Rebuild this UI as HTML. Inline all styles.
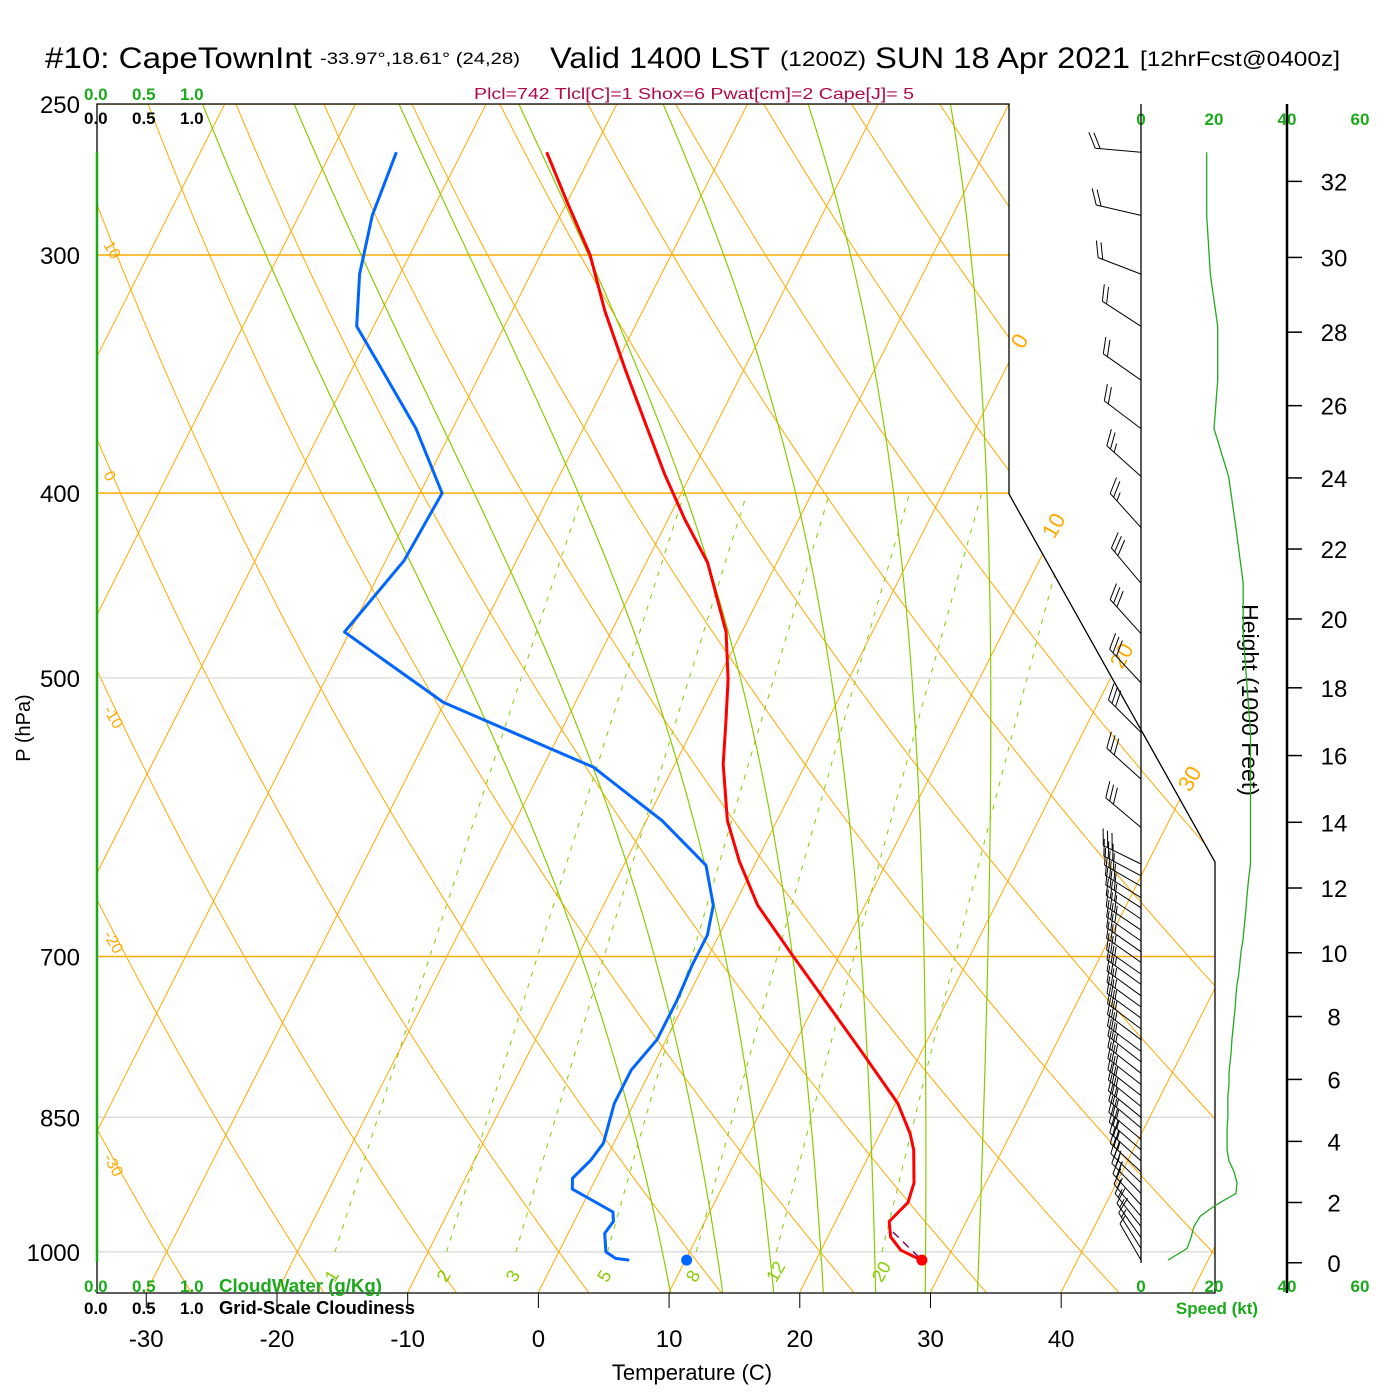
<!DOCTYPE html>
<html><head><meta charset="utf-8"><title>Skew-T CapeTownInt</title>
<style>html,body{margin:0;padding:0;background:#fff}svg{display:block}text{font-family:"Liberation Sans",sans-serif}</style>
</head><body>
<svg id="chart" xmlns="http://www.w3.org/2000/svg" width="1400" height="1400" viewBox="0 0 1400 1400">
<defs><clipPath id="plotClip"><polygon points="97,104 1009,104 1009,494 1215,862 1215,1293 97,1293"/></clipPath></defs>
<rect x="0" y="0" width="1400" height="1400" fill="#fff"/>
<g id="bg" clip-path="url(#plotClip)"></g>
<g id="fg"></g>
<g>
<text x="45" y="68" font-size="30" textLength="267" lengthAdjust="spacingAndGlyphs">#10: CapeTownInt</text>
<text x="320" y="64" font-size="17" textLength="200" lengthAdjust="spacingAndGlyphs">-33.97°,18.61° (24,28)</text>
<text x="550" y="68" font-size="30" textLength="220" lengthAdjust="spacingAndGlyphs">Valid 1400 LST</text>
<text x="780" y="66" font-size="21" textLength="86" lengthAdjust="spacingAndGlyphs">(1200Z)</text>
<text x="875" y="68" font-size="30" textLength="255" lengthAdjust="spacingAndGlyphs">SUN 18 Apr 2021</text>
<text x="1140" y="66" font-size="21" textLength="200" lengthAdjust="spacingAndGlyphs">[12hrFcst@0400z]</text>
<text x="474" y="99" font-size="16" fill="#b0084a" textLength="440" lengthAdjust="spacingAndGlyphs">Plcl=742 Tlcl[C]=1 Shox=6 Pwat[cm]=2 Cape[J]= 5</text>
</g>
</svg>
<script>
const NS="http://www.w3.org/2000/svg";
// ---- data ----
const tempP=[265,281,300,321,345,368,391,413,435,455,473,501,526,555,594,624,658,699,735,784,836,867,884,920,942,964,982,998,1011];
const tempC=[-43.5,-40.1,-36.2,-32.9,-29.0,-25.4,-22.0,-18.7,-15.3,-13.1,-11.2,-9.2,-7.8,-6.3,-3.8,-1.3,1.8,6.4,10.3,15.3,20.2,22.3,23.2,24.5,24.8,24.1,24.8,26.1,28.2];
const dewP=[265,286,307,327,343,370,400,434,473,515,557,594,627,658,682,707,738,774,803,836,877,895,915,927,953,964,978,1000,1008,1010];
const dewC=[-55.0,-54.4,-53.1,-51.3,-48.0,-42.8,-38.3,-38.6,-40.4,-30.1,-16.1,-8.8,-3.7,-1.6,-0.9,-0.9,-0.7,-0.7,-1.5,-1.5,-0.8,-1.1,-1.8,-1.4,2.6,3.0,2.8,3.6,4.6,5.7];
const sfcP=1010, sfcT=28.1, sfcTd=10.1;
const windP=[265,286,307,327,349,370,392,417,446,474,503,534,565,599,626,635,643,652,660,669,678,687,696,705,715,724,734,744,754,764,774,785,795,806,817,828,839,850,861,873,884,896,908,920,932,945,958,970,983,996,1010];
const windDir=[275,283,291,303,305,307,312,318,320,318,317,315,312,310,296,298,300,302,303,304,304,305,305,305,305,306,306,306,306,307,307,307,308,308,308,308,309,309,310,310,311,312,313,314,316,318,320,322,325,328,330];
const windSpd=[18,18,19,21,21,20,24,26,28,28,29,30,30,30,30,29.6,29.3,29,28.8,28.5,28.2,27.9,27.4,27.1,26.8,26.3,26,25.8,25.5,25.2,24.9,24.7,24.4,24.1,24.1,23.8,23.8,23.8,23.6,23.6,23.6,24.1,25.5,26.3,26,20.5,16.2,14.5,13.7,12.6,7.4];
const pressTicks=[250,300,400,500,700,850,1000];
const tempTicks=[-30,-20,-10,0,10,20,30,40];
const heightTicks=[0,2,4,6,8,10,12,14,16,18,20,22,24,26,28,30,32];
const speedTicks=[0,20,40,60];
const mixRatios=[1,2,3,5,8,12,20];
const moistStarts=[10.1,14.1,18,21.8,25.8,29.6,33.6];
const adiabatLabels=[10,0,-10,-20,-30];
const isoLabels=[0,10,20,30];

// ---- axes ----
function yP(p){return 104+828*Math.log(p/250);}
function xT(T,p){return 538+13.07*T+0.506*(1293-yP(p));}
function xSpd(k){return 1141+3.65*k;}
function yH(kft){const z=kft*304.8;const p=1013.25*Math.pow(1-2.25577e-5*z,5.25588);return yP(p);}

const bg=document.getElementById('bg'), fg=document.getElementById('fg');
function el(tag,attrs,parent){const e=document.createElementNS(NS,tag);for(const k in attrs)e.setAttribute(k,attrs[k]);(parent||fg).appendChild(e);return e;}
function pathD(pts){return pts.map((q,i)=>(i?'L':'M')+q[0].toFixed(1)+','+q[1].toFixed(1)).join('');}
const OR='#ffaa00', GR='#88cc00';

// isobars
pressTicks.forEach(p=>{
  const y=yP(p);
  const xr=(p>=700)?1215:(p>=500?1140:1009);
  const l=el('line',{x1:97,y1:y,x2:xr,y2:y,stroke:(p==500||p==850||p==1000)?'#d6d6d6':OR,'stroke-width':(p==500||p==850||p==1000)?1.2:1.5},p==500?fg:bg);
  
  
});
// isotherms
for(let T=-110;T<=60;T+=10){
  const l=el('line',{x1:xT(T,1050),y1:yP(1050),x2:xT(T,250),y2:yP(250),stroke:OR,'stroke-width':1},bg);
  
  
}
// dry adiabats
for(let th=-60;th<=200;th+=10){
  const pts=[];for(let p=1050;p>=250;p-=10){const T=(th+273.15)*Math.pow(p/1000,0.2857)-273.15;pts.push([xT(T,p),yP(p)]);}
  const l=el('path',{d:pathD(pts),fill:'none',stroke:OR,'stroke-width':1},bg);
  
  
}
// moist adiabats
function es(Tc){return 6.112*Math.exp(17.67*Tc/(Tc+243.5));}
moistStarts.forEach(T0=>{
  let T=T0+273.15;const pts=[];
  for(let p=1050;p>=250;p-=2){
    pts.push([xT(T-273.15,p),yP(p)]);
    const e=es(T-273.15), rs=0.622*e/(p-e);
    const dTdp=(287*T+2.5e6*rs)/(1004+2.5e6*2.5e6*rs*0.622/(287*T*T))/p;
    T-=dTdp*2;
  }
  const l=el('path',{d:pathD(pts),fill:'none',stroke:GR,'stroke-width':1.2},bg);
  
  
});
// mixing ratio lines
mixRatios.forEach(w=>{
  const pts=[];for(let p=1000;p>=400;p-=10){const e=w*p/(622+w);const a=Math.log(e/6.112);const Td=243.5*a/(17.67-a);pts.push([xT(Td,p),yP(p)]);}
  const l=el('path',{d:pathD(pts),fill:'none',stroke:GR,'stroke-width':1,'stroke-dasharray':'5,7'},bg);
  
  
  const e=w*1000/(622+w);const a=Math.log(e/6.112);const Td=243.5*a/(17.67-a);
  const t=el('text',{x:xT(Td,1000)-8,y:1282,'font-size':18,fill:GR,transform:'rotate(-60 '+(xT(Td,1000)-3)+' 1276)'});
  t.textContent=w;
  
  
});

// frame
const frame=el('path',{d:'M97,152 L97,104 L1009,104 L1009,494 L1215,862 L1215,1293 L97,1293 L97,1262',fill:'none',stroke:'#000','stroke-width':1.3});


const cw=el('line',{x1:97,y1:152,x2:97,y2:1262,stroke:'#1aaa1a','stroke-width':2.5});



// adiabat labels left
const adiabatLabelY=[250,480,715,940,1163];
adiabatLabels.forEach((v,i)=>{
  const t=el('text',{x:100,y:adiabatLabelY[i],'font-size':16,fill:OR,transform:'rotate(60 106 '+adiabatLabelY[i]+')'});
  t.textContent=v;
  
  
});
// isotherm labels right
const isoLabelPos=[[1023,350],[1054,540],[1122,670],[1190,793]];
isoLabels.forEach((v,i)=>{
  const [x,y]=isoLabelPos[i];
  const t=el('text',{x:x,y:y,'font-size':22,fill:OR,transform:'rotate(-60 '+x+' '+y+')'});
  t.textContent=v;
  
  
});

// pressure labels
pressTicks.forEach(p=>{
  const t=el('text',{x:80,y:yP(p)+9,'font-size':24,'text-anchor':'end'});
  t.textContent=p;
  
  
});
const pl=el('text',{x:0,y:0,'font-size':20,'text-anchor':'middle',transform:'translate(30 728) rotate(-90)'});
pl.textContent='P (hPa)';


// temp ticks
tempTicks.forEach(T=>{
  const x=xT(T,1050);
  const l=el('line',{x1:x,y1:1293,x2:x,y2:1308,stroke:'#000','stroke-width':1});
  
  
  const t=el('text',{x:x,y:1347,'font-size':24,'text-anchor':'middle'});
  t.textContent=T;
  
  
});
const xt=el('text',{x:692,y:1380,'font-size':22,'text-anchor':'middle'});
xt.textContent='Temperature (C)';



// cloud axes labels
[['#1aaa1a',100],['#000',124]].forEach(([c,y])=>{
  ['0.0','0.5','1.0'].forEach((s,i)=>{const t=el('text',{x:84+48*i,y:y,'font-size':17,'font-weight':'bold',fill:c});t.textContent=s;
    
    });
});
[['#1aaa1a',1292,'CloudWater (g/Kg)'],['#000',1314,'Grid-Scale Cloudiness']].forEach(([c,y,s2])=>{
  ['0.0','0.5','1.0'].forEach((s,i)=>{const t=el('text',{x:84+48*i,y:y,'font-size':17,'font-weight':'bold',fill:c});t.textContent=s;
    
    });
  const t=el('text',{x:219,y:y,'font-size':18,'font-weight':'bold',fill:c,textLength:(c=='#000'?196:163),lengthAdjust:'spacingAndGlyphs'});t.textContent=s2;
  
  
});

// speed axis
speedTicks.forEach(k=>{
  [125,1292].forEach(y=>{const t=el('text',{x:xSpd(k),y:y,'font-size':17,'font-weight':'bold',fill:'#1aaa1a','text-anchor':'middle'});t.textContent=k;
    
    });
});
const st=el('text',{x:1217,y:1314,'font-size':17,'font-weight':'bold',fill:'#1aaa1a','text-anchor':'middle'});
st.textContent='Speed (kt)';


const staff=el('line',{x1:1141,y1:104,x2:1141,y2:1263,stroke:'#000','stroke-width':1.3});



// height axis
const ha=el('line',{x1:1287,y1:104,x2:1287,y2:1293,stroke:'#000','stroke-width':2.5});


heightTicks.forEach(h=>{
  const y=yH(h);
  const l=el('line',{x1:1287,y1:y,x2:1302,y2:y,stroke:'#000','stroke-width':1.5});
  
  
  const t=el('text',{x:1334,y:y+9,'font-size':24,'text-anchor':'middle'});
  t.textContent=h;
  
  
});
const ht=el('text',{x:0,y:0,'font-size':23,'text-anchor':'middle',transform:'translate(1242 700) rotate(90)'});
ht.textContent='Height (1000 Feet)';



// wind speed line
const sp=el('path',{d:pathD(windP.map((p,i)=>[xSpd(windSpd[i]),yP(p)])),fill:'none',stroke:'#22aa22','stroke-width':1.3});



// wind barbs
windP.forEach((p,i)=>{
  const bx=1141, by=yP(p), d=windDir[i]*Math.PI/180, L=p>620?42:46;
  const ux=Math.sin(d), uy=-Math.cos(d);
  const tx=bx+L*ux, ty=by+L*uy;
  let dd='M'+bx+','+by.toFixed(1)+'L'+tx.toFixed(1)+','+ty.toFixed(1);
  let spd=Math.round(windSpd[i]/5)*5, k=0;
  const fx=0.9*(-uy)+0.45*ux, fy=0.9*ux+0.45*uy;
  while(spd>=10){const sx=tx-k*5*ux, sy=ty-k*5*uy;dd+='M'+sx.toFixed(1)+','+sy.toFixed(1)+'l'+(17*fx).toFixed(1)+','+(17*fy).toFixed(1);spd-=10;k++;}
  if(spd>=5){const sx=tx-k*5*ux, sy=ty-k*5*uy;dd+='M'+sx.toFixed(1)+','+sy.toFixed(1)+'l'+(9*fx).toFixed(1)+','+(9*fy).toFixed(1);}
  const b=el('path',{d:dd,fill:'none',stroke:'#000','stroke-width':1});
  
  
});

// profiles
const tl=el('path',{d:pathD(tempP.map((p,i)=>[xT(tempC[i],p),yP(p)])),fill:'none',stroke:'#ff0000','stroke-width':3,'stroke-linejoin':'round'});


const dl=el('path',{d:pathD(dewP.map((p,i)=>[xT(dewC[i],p),yP(p)])),fill:'none',stroke:'#0066ff','stroke-width':3,'stroke-linejoin':'round'});


const pc=el('line',{x1:xT(sfcT,sfcP)-29,y1:yP(sfcP)-28,x2:xT(sfcT,sfcP),y2:yP(sfcP),stroke:'#7a1060','stroke-width':1.5,'stroke-dasharray':'8,6'});


const rd=el('circle',{cx:xT(sfcT,sfcP),cy:yP(sfcP),r:5.5,fill:'#ff0000'});


const bd=el('circle',{cx:xT(sfcTd,sfcP),cy:yP(sfcP),r:5.5,fill:'#0066ff'});


</script>
</body></html>
